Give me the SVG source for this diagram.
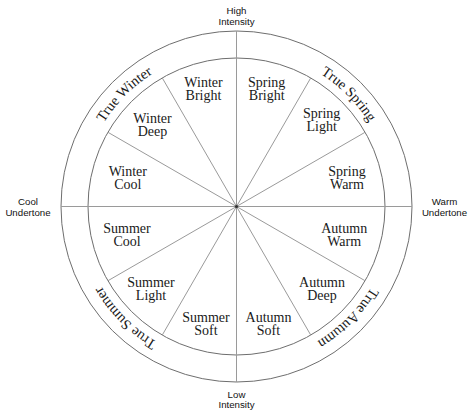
<svg xmlns="http://www.w3.org/2000/svg" xmlns:xlink="http://www.w3.org/1999/xlink" width="474" height="415" viewBox="0 0 474 415">
<style>
.lbl{font-family:"Liberation Serif","Times New Roman",serif;font-size:14px;fill:#1a1a1a;text-anchor:middle}
.ring{font-family:"Liberation Serif","Times New Roman",serif;font-size:14.5px;fill:#1a1a1a;text-anchor:middle}
.axis{font-family:"Liberation Sans",Arial,sans-serif;font-size:9.7px;fill:#111;text-anchor:middle}
.circ{fill:none;stroke:#6e6e6e;stroke-width:1}
.spoke{stroke:#9a9a9a;stroke-width:1}
</style>
<defs>
<path id="ringPath" d="M 236.5 49.5 A 157 157 0 1 1 236.5 363.5 A 157 157 0 1 1 236.5 49.5"/>
</defs>
<rect width="474" height="415" fill="#ffffff"/>
<g id="wheel">
<circle class="circ" cx="236.5" cy="206.5" r="175.5"/>
<circle class="circ" cx="236.5" cy="206.5" r="148.5"/>
</g>
<g id="connectors">
<line class="spoke" x1="236.5" y1="31" x2="236.5" y2="382"/>
<line class="spoke" x1="61" y1="206.5" x2="412" y2="206.5"/>
<line class="spoke" x1="236.5" y1="206.5" x2="310.75" y2="77.9"/>
<line class="spoke" x1="236.5" y1="206.5" x2="365.1" y2="132.25"/>
<line class="spoke" x1="236.5" y1="206.5" x2="365.1" y2="280.75"/>
<line class="spoke" x1="236.5" y1="206.5" x2="310.75" y2="335.1"/>
<line class="spoke" x1="236.5" y1="206.5" x2="162.25" y2="335.1"/>
<line class="spoke" x1="236.5" y1="206.5" x2="107.9" y2="280.75"/>
<line class="spoke" x1="236.5" y1="206.5" x2="107.9" y2="132.25"/>
<line class="spoke" x1="236.5" y1="206.5" x2="162.25" y2="77.9"/>
<circle cx="236.5" cy="206.5" r="1.6" fill="#333"/>
</g>
<g id="axis-labels">
<g id="high"><text class="axis" x="236.5" y="14">High</text><text class="axis" x="236.5" y="24.5">Intensity</text></g>
<g id="low"><text class="axis" x="236.5" y="397.5">Low</text><text class="axis" x="236.5" y="408">Intensity</text></g>
<g id="cool"><text class="axis" x="28" y="205">Cool</text><text class="axis" x="28" y="216">Undertone</text></g>
<g id="warm"><text class="axis" x="444.5" y="205">Warm</text><text class="axis" x="444.5" y="216">Undertone</text></g>
</g>
<g id="true-seasons">
<g id="true-spring"><text class="ring"><textPath xlink:href="#ringPath" href="#ringPath" startOffset="12.5%">True Spring</textPath></text></g>
<g id="true-autumn"><text class="ring"><textPath xlink:href="#ringPath" href="#ringPath" startOffset="37.5%">True Autumn</textPath></text></g>
<g id="true-summer"><text class="ring"><textPath xlink:href="#ringPath" href="#ringPath" startOffset="62.5%">True Summer</textPath></text></g>
<g id="true-winter"><text class="ring"><textPath xlink:href="#ringPath" href="#ringPath" startOffset="87.5%">True Winter</textPath></text></g>
</g>
<g id="winter-bright"><text class="lbl" x="203.5" y="86.5">Winter</text><text class="lbl" x="203.5" y="99.5">Bright</text></g>
<g id="spring-bright"><text class="lbl" x="266.7" y="86.5">Spring</text><text class="lbl" x="266.7" y="99.5">Bright</text></g>
<g id="winter-deep"><text class="lbl" x="152.5" y="123">Winter</text><text class="lbl" x="152.5" y="136">Deep</text></g>
<g id="spring-light"><text class="lbl" x="321.7" y="117.5">Spring</text><text class="lbl" x="321.7" y="130.5">Light</text></g>
<g id="winter-cool"><text class="lbl" x="127.8" y="176">Winter</text><text class="lbl" x="127.8" y="189">Cool</text></g>
<g id="spring-warm"><text class="lbl" x="347" y="176">Spring</text><text class="lbl" x="347" y="189">Warm</text></g>
<g id="summer-cool"><text class="lbl" x="127" y="233">Summer</text><text class="lbl" x="127" y="246">Cool</text></g>
<g id="autumn-warm"><text class="lbl" x="344.2" y="233">Autumn</text><text class="lbl" x="344.2" y="246">Warm</text></g>
<g id="summer-light"><text class="lbl" x="151" y="287.3">Summer</text><text class="lbl" x="151" y="300.3">Light</text></g>
<g id="autumn-deep"><text class="lbl" x="322" y="287.3">Autumn</text><text class="lbl" x="322" y="300.3">Deep</text></g>
<g id="summer-soft"><text class="lbl" x="206" y="322.3">Summer</text><text class="lbl" x="206" y="335">Soft</text></g>
<g id="autumn-soft"><text class="lbl" x="268.5" y="322.3">Autumn</text><text class="lbl" x="268.5" y="335">Soft</text></g>
</svg>
